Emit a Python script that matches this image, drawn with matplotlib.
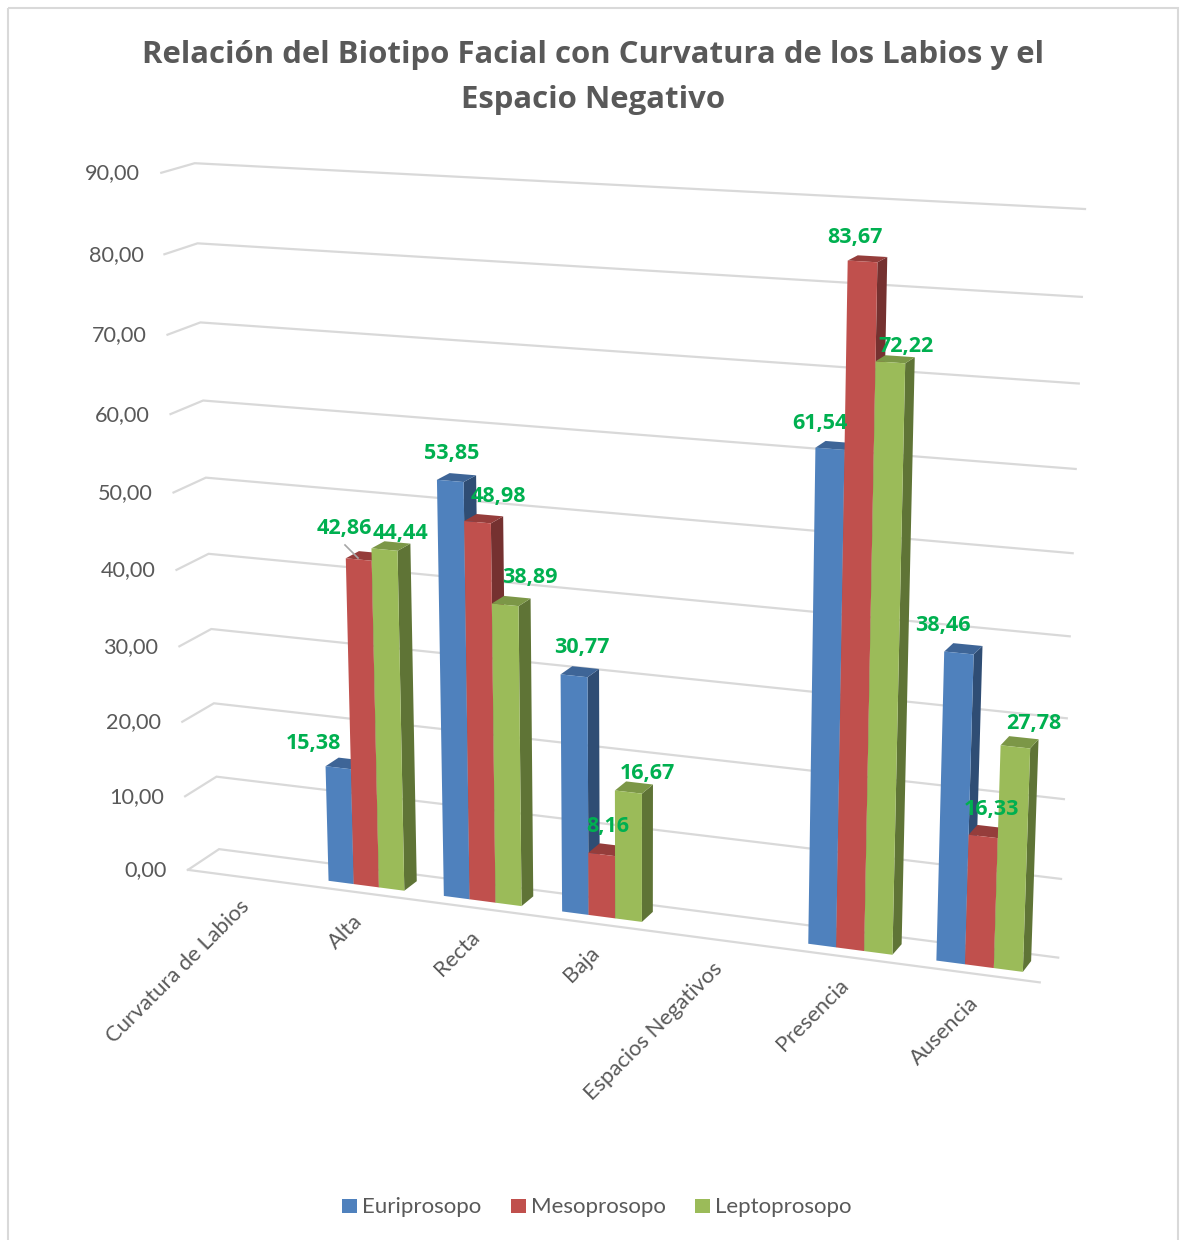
import numpy as np
import matplotlib
matplotlib.use('Agg')
import matplotlib.pyplot as plt
from matplotlib.patches import Polygon, Rectangle

categories = ['Curvatura de Labios', 'Alta', 'Recta', 'Baja', 'Espacios Negativos', 'Presencia', 'Ausencia']
series_names = ['Euriprosopo', 'Mesoprosopo', 'Leptoprosopo']
euriprosopo = [None, 15.38, 53.85, 30.77, None, 61.54, 38.46]
mesoprosopo = [None, 42.86, 48.98, 8.16, None, 83.67, 16.33]
leptoprosopo = [None, 44.44, 38.89, 16.67, None, 72.22, 27.78]
value_ticks = [0, 10, 20, 30, 40, 50, 60, 70, 80, 90]

front_cols = ['#4F81BD', '#C0504D', '#9BBB59']
top_cols = ['#3E6597', '#953D3B', '#7C9747']
side_cols = ['#2F4D74', '#753130', '#5F7436']
txt_col = '#595959'
grid_col = '#D9D9D9'
green = '#00B050'
plt.rcParams['font.family'] = ['Lato', 'DejaVu Sans']

# box corners in the picture, (x, value, depth) -> pixel, used to fit the camera
world = np.array([[0, 0, 0], [0, 0, 1], [7, 0, 1], [7, 0, 0], [0, 90, 0], [0, 90, 1], [7, 90, 1]], dtype=float)
pix = np.array([[188, 870], [219, 849], [1058, 958], [1040, 982], [161, 173], [195, 163], [1085, 209]], dtype=float)

A = []
b = []
for (X, Y, Z), (u, v) in zip(world, pix):
    A.append([X, Y, Z, 1, 0, 0, 0, 0, -u*X, -u*Y, -u*Z])
    A.append([0, 0, 0, 0, X, Y, Z, 1, -v*X, -v*Y, -v*Z])
    b += [u, v]
cam = np.linalg.lstsq(np.array(A), np.array(b), rcond=None)[0]
cam = np.append(cam, 1).reshape(3, 4)

def proj(x, y, z):
    p = cam @ np.array([x, y, z, 1.0])
    return p[0]/p[2], p[1]/p[2]

fig = plt.figure(figsize=(11.86, 12.4), dpi=100)
ax = fig.add_axes([0, 0, 1, 1])
ax.set_xlim(0, 1186)
ax.set_ylim(1240, 0)
ax.axis('off')

ax.add_patch(Rectangle((8, 8), 1170, 1240, fill=False, ec=grid_col, lw=1.5))

ax.text(593, 55, 'Relación del Biotipo Facial con Curvatura de los Labios y el', ha='center', va='center',
        fontsize=22.4, fontweight='bold', color=txt_col, family='Open Sans')
ax.text(593, 100, 'Espacio Negativo', ha='center', va='center', fontsize=22.4, fontweight='bold', color=txt_col,
        family='Open Sans')

# gridlines: front left -> back left -> back right
for v in value_ticks:
    pts = [proj(0, v, 0), proj(0, v, 1), proj(7, v, 1)]
    ax.plot(*zip(*pts), color=grid_col, lw=1.6, zorder=1, solid_joinstyle='miter')
    x0, y0 = pts[0]
    ax.text(x0 - 21, y0 + 0.5, f'{v:.2f}'.replace('.', ','), ha='right', va='center', fontsize=15.6, color=txt_col)
ax.plot(*zip(proj(0, 0, 0), proj(7, 0, 0)), color=grid_col, lw=1.6, zorder=1)

# category labels
for i, c in enumerate(categories):
    x0, y0 = proj(i + 0.5, 0, 0)
    ax.text(x0 - 5, y0 + 19, c, rotation=45, rotation_mode='anchor', ha='right', va='top', fontsize=15.8, color=txt_col)

# bars
bar_w = 0.22
start = 0.17
z0, z1 = 0.3, 0.74
label_nudge = {(1, 0): (-25, -24), (1, 1): (-14, -31), (1, 2): (16, -16), (2, 0): (1, -27), (2, 1): (21, -26),
               (2, 2): (25, -27), (3, 0): (8, -28), (3, 1): (6, -28), (3, 2): (19, -19), (5, 0): (-10, -25),
               (5, 1): (-8, -24), (5, 2): (16, -16), (6, 0): (-16, -27), (6, 1): (8, -27), (6, 2): (18, -23)}
series = [euriprosopo, mesoprosopo, leptoprosopo]
z = 3
for i in range(len(categories)):
    for s, vals in enumerate(series):
        val = vals[i]
        if val is None:
            continue
        xl = i + start + s*bar_w
        xr = xl + bar_w
        front = [proj(xl, 0, z0), proj(xr, 0, z0), proj(xr, val, z0), proj(xl, val, z0)]
        side = [proj(xr, 0, z0), proj(xr, 0, z1), proj(xr, val, z1), proj(xr, val, z0)]
        top = [proj(xl, val, z0), proj(xr, val, z0), proj(xr, val, z1), proj(xl, val, z1)]
        ax.add_patch(Polygon(side, fc=side_cols[s], ec='none', zorder=z))
        ax.add_patch(Polygon(top, fc=top_cols[s], ec='none', zorder=z))
        ax.add_patch(Polygon(front, fc=front_cols[s], ec='none', zorder=z + 0.5))
        z += 1

for i in range(len(categories)):
    for s, vals in enumerate(series):
        val = vals[i]
        if val is None:
            continue
        xm = i + start + (s + 0.5)*bar_w
        px, py = proj(xm, val, z0)
        dx, dy = label_nudge[(i, s)]
        ax.text(px + dx, py + dy, f'{val:.2f}'.replace('.', ','), ha='center', va='center', fontsize=15.5,
                fontweight='bold', color=green, zorder=100, family='Open Sans')

# leader line of the 42,86 label
ax.plot([345, 358], [545, 558], color='#A6A6A6', lw=1.2, zorder=99)

# legend
leg_x = [342, 511, 695]
for s, name in enumerate(series_names):
    ax.add_patch(Rectangle((leg_x[s], 1199), 15, 14, fc=front_cols[s], ec='none'))
    ax.text(leg_x[s] + 20, 1207, name, ha='left', va='center', fontsize=16, color=txt_col)

fig.savefig('out.png', dpi=100)
